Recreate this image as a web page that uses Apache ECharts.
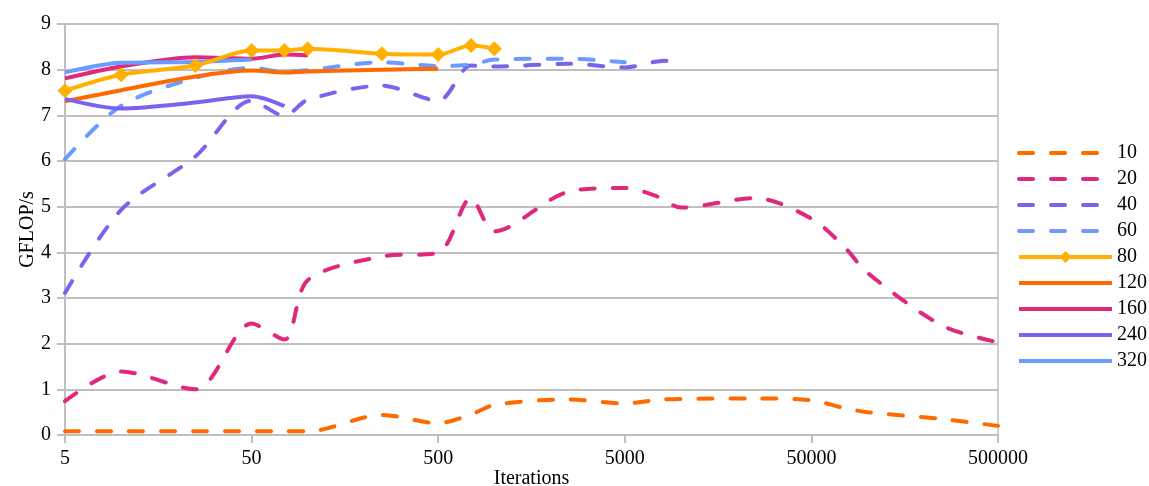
<!DOCTYPE html>
<html>
<head>
<meta charset="utf-8">
<script src="https://cdn.jsdelivr.net/npm/echarts@6/dist/echarts.min.js"></script>
<style>html,body{margin:0;padding:0;background:#fff}#c{width:1149px;height:486px}</style>
</head>
<body>
<div id="c"></div>
<script>
const iterations = [5, 10, 25, 50, 75, 100, 250, 500, 750, 1000, 2500, 5000, 7500, 10000, 25000, 50000, 75000, 100000, 250000, 500000];
const xTickLabels = ['5', '50', '500', '5000', '50000', '500000'];
const seriesNames = ['10', '20', '40', '60', '80', '120', '160', '240', '320'];
const s10 = [0.08, 0.08, 0.08, 0.08, 0.08, 0.08, 0.44, 0.26, 0.45, 0.66, 0.78, 0.69, 0.77, 0.79, 0.80, 0.76, 0.59, 0.50, 0.35, 0.20];
const s20 = [0.74, 1.39, 1.00, 2.44, 2.09, 3.39, 3.91, 3.99, 5.19, 4.46, 5.33, 5.41, 5.22, 4.98, 5.19, 4.74, 4.12, 3.55, 2.40, 2.03];
const s40 = [3.11, 4.93, 6.10, 7.32, 6.99, 7.34, 7.65, 7.32, 8.09, 8.07, 8.13, 8.05, 8.18, 8.20];
const s60 = [6.04, 7.21, 7.82, 8.04, 7.95, 7.99, 8.16, 8.08, 8.11, 8.22, 8.24, 8.16];
const s80 = [7.54, 7.89, 8.09, 8.42, 8.42, 8.46, 8.35, 8.33, 8.53, 8.46];
const s120 = [7.31, 7.55, 7.85, 7.98, 7.94, 7.96, 8.00, 8.02];
const s160 = [7.81, 8.07, 8.27, 8.24, 8.33, 8.31];
const s240 = [7.36, 7.15, 7.28, 7.42, 7.20];
const s320 = [7.94, 8.15, 8.17, 8.22];

const values = [s10, s20, s40, s60, s80, s120, s160, s240, s320];
const colors = ['#FF6A00', '#E0287E', '#7B63F0', '#6A9BFF', '#FFB000', '#FF6A00', '#E0287E', '#7B63F0', '#6A9BFF'];
const dashed = [true, true, true, true, false, false, false, false, false];
const markers = [false, false, false, false, true, false, false, false, false];

const FONT = 'Liberation Serif';
const toX = v => Math.log10(v / 5);

const series = values.map((arr, i) => ({
  name: seriesNames[i],
  type: 'line',
  smooth: 0.3,
  data: arr.map((y, j) => [toX(iterations[j]), y]),
  symbol: markers[i] ? 'diamond' : 'none',
  symbolSize: 15,
  showSymbol: markers[i],
  itemStyle: { color: colors[i] },
  lineStyle: {
    color: colors[i],
    width: 4,
    type: dashed[i] ? [14, 18] : 'solid',
    cap: dashed[i] ? 'round' : 'butt'
  },
  z: markers[i] ? 5 : 2,
  animation: false
}));

const legendData = seriesNames.map((n, i) => ({
  name: n,
  itemStyle: markers[i] ? { opacity: 1 } : { opacity: 0 },
  lineStyle: { width: 4, type: dashed[i] ? [14, 18] : 'solid', cap: dashed[i] ? 'round' : 'butt' }
}));

const chart = echarts.init(document.getElementById('c'));
chart.setOption({
  animation: false,
  backgroundColor: '#fff',
  grid: { left: 65, right: 151, top: 24, bottom: 51, outerBoundsMode: 'none', containLabel: false, show: true, borderColor: '#BFBFBF', borderWidth: 1.5 },
  legend: {
    orient: 'vertical',
    left: 1017,
    top: 143,
    padding: 0,
    itemWidth: 93,
    itemHeight: 15,
    itemGap: 6,
    textStyle: { fontFamily: FONT, fontSize: 20, color: '#000' },
    data: legendData
  },
  xAxis: {
    type: 'value',
    min: 0, max: 5, interval: 1,
    name: 'Iterations',
    nameLocation: 'middle',
    nameGap: 34,
    nameMoveOverlap: false,
    nameTextStyle: { fontFamily: FONT, fontSize: 20, color: '#000' },
    axisLine: { show: true, lineStyle: { color: '#BFBFBF', width: 2 } },
    axisTick: { show: true, length: 8, lineStyle: { color: '#BFBFBF', width: 2 } },
    splitLine: { show: false },
    axisLabel: {
      fontFamily: FONT, fontSize: 20, color: '#000', margin: 14,
      formatter: v => xTickLabels[Math.round(v)]
    }
  },
  yAxis: {
    type: 'value',
    min: 0, max: 9, interval: 1,
    name: 'GFLOP/s',
    nameLocation: 'middle',
    nameRotate: 90,
    nameGap: 27,
    nameMoveOverlap: false,
    nameTextStyle: { fontFamily: FONT, fontSize: 20, color: '#000' },
    axisLine: { show: true, lineStyle: { color: '#BFBFBF', width: 2 } },
    axisTick: { show: true, length: 8, lineStyle: { color: '#BFBFBF', width: 2 } },
    splitLine: { show: true, lineStyle: { color: '#BFBFBF', width: 2 } },
    axisLabel: { fontFamily: FONT, fontSize: 20, color: '#000', margin: 14 }
  },
  series: series
});
</script>
</body>
</html>
